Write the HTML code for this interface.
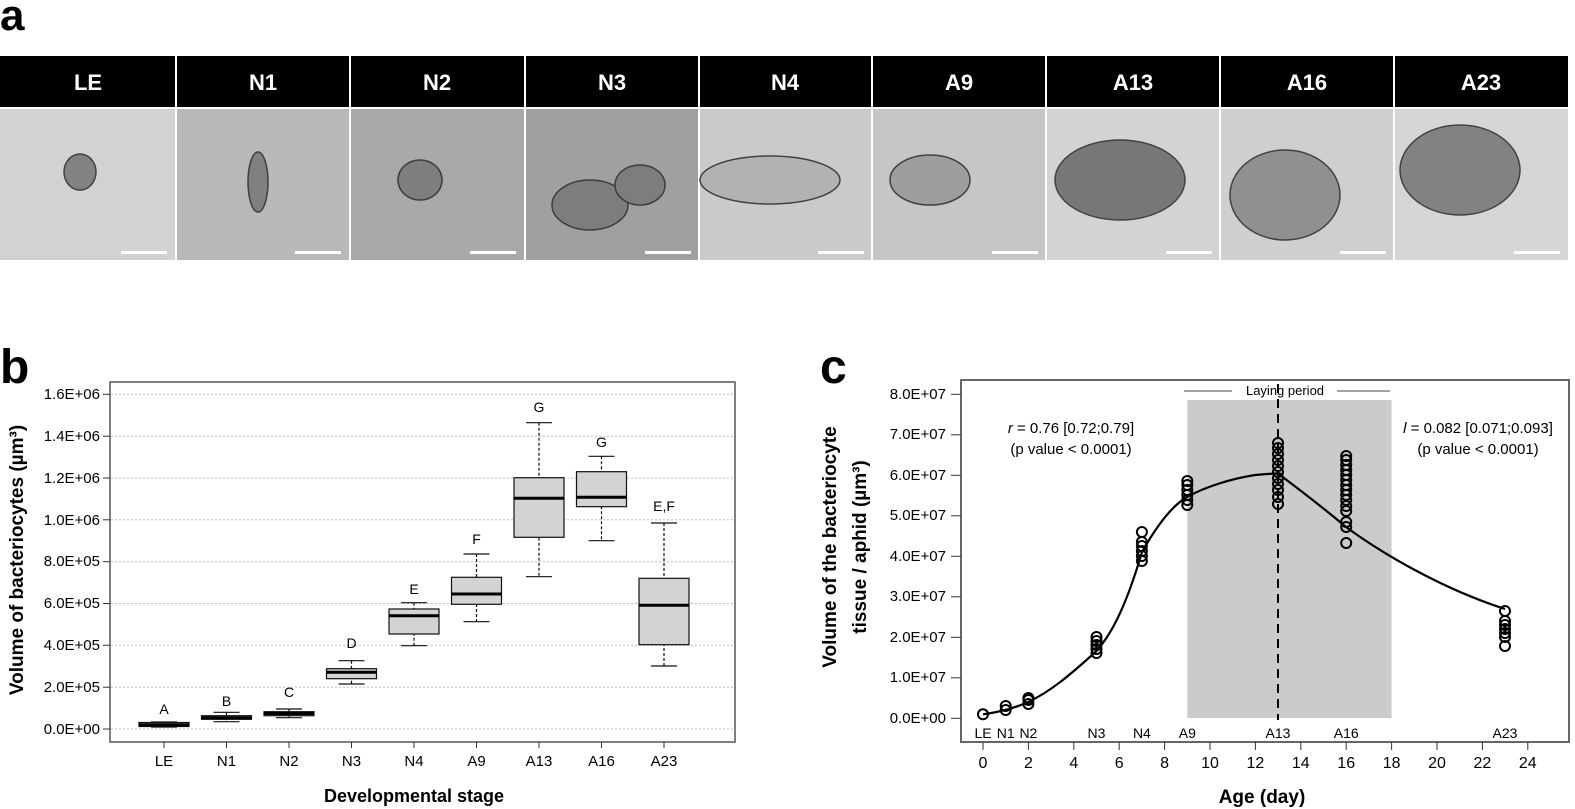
<!DOCTYPE html>
<html><head><meta charset="utf-8"><style>
body{margin:0;background:#fff;width:1575px;height:809px;overflow:hidden}
svg{display:block;font-family:"Liberation Sans",sans-serif}
</style></head><body>
<svg width="1575" height="809" viewBox="0 0 1575 809" xmlns="http://www.w3.org/2000/svg">
<text x="0" y="30" font-size="44" font-weight="bold">a</text>
<text x="0" y="383" font-size="48" font-weight="bold">b</text>
<text x="820" y="383" font-size="48" font-weight="bold">c</text>

<rect x="0" y="56" width="1568" height="51" fill="#000"/>
<rect x="0" y="109" width="175" height="151" fill="#d2d2d2"/>
<rect x="177" y="109" width="172" height="151" fill="#b9b9b9"/>
<rect x="351" y="109" width="173" height="151" fill="#a9a9a9"/>
<rect x="526" y="109" width="172" height="151" fill="#a0a0a0"/>
<rect x="700" y="109" width="171" height="151" fill="#cacaca"/>
<rect x="873" y="109" width="172" height="151" fill="#c6c6c6"/>
<rect x="1047" y="109" width="172" height="151" fill="#d3d3d3"/>
<rect x="1221" y="109" width="172" height="151" fill="#cfcfcf"/>
<rect x="1395" y="109" width="173" height="151" fill="#d6d6d6"/>
<g stroke="#fff" stroke-width="2"><line x1="176" y1="56" x2="176" y2="260"/><line x1="350" y1="56" x2="350" y2="260"/><line x1="525" y1="56" x2="525" y2="260"/><line x1="699" y1="56" x2="699" y2="260"/><line x1="872" y1="56" x2="872" y2="260"/><line x1="1046" y1="56" x2="1046" y2="260"/><line x1="1220" y1="56" x2="1220" y2="260"/><line x1="1394" y1="56" x2="1394" y2="260"/><line x1="0" y1="108" x2="1568" y2="108"/></g>
<g fill="#fff" font-size="22" font-weight="bold" text-anchor="middle">
<text x="88" y="90">LE</text><text x="263" y="90">N1</text><text x="437" y="90">N2</text><text x="612" y="90">N3</text><text x="785" y="90">N4</text><text x="959" y="90">A9</text><text x="1133" y="90">A13</text><text x="1307" y="90">A16</text><text x="1481" y="90">A23</text></g>
<g fill="#7a7a7a" stroke="#333" stroke-width="1.5" opacity="0.9">
<ellipse cx="80" cy="172" rx="16" ry="18"/>
<ellipse cx="258" cy="182" rx="10" ry="30"/>
<ellipse cx="420" cy="180" rx="22" ry="20"/>
<ellipse cx="590" cy="205" rx="38" ry="25"/><ellipse cx="640" cy="185" rx="25" ry="20"/>
<ellipse cx="770" cy="180" rx="70" ry="24" fill="#b0b0b0"/>
<ellipse cx="930" cy="180" rx="40" ry="25" fill="#9a9a9a"/>
<ellipse cx="1120" cy="180" rx="65" ry="40" fill="#6e6e6e"/>
<ellipse cx="1285" cy="195" rx="55" ry="45" fill="#8a8a8a"/>
<ellipse cx="1460" cy="170" rx="60" ry="45" fill="#7a7a7a"/>
</g>
<g fill="#fff"><rect x="121" y="251" width="46" height="3"/><rect x="295" y="251" width="46" height="3"/><rect x="470" y="251" width="46" height="3"/><rect x="645" y="251" width="46" height="3"/><rect x="818" y="251" width="46" height="3"/><rect x="992" y="251" width="46" height="3"/><rect x="1166" y="251" width="46" height="3"/><rect x="1340" y="251" width="46" height="3"/><rect x="1514" y="251" width="46" height="3"/></g>

<rect x="110" y="382" width="625" height="360" fill="#fff" stroke="#555" stroke-width="1.5"/>
<g stroke="#bbb" stroke-dasharray="2,2" stroke-width="1">
<line x1="111" y1="729" x2="734" y2="729"/><line x1="111" y1="687.2" x2="734" y2="687.2"/><line x1="111" y1="645.3" x2="734" y2="645.3"/><line x1="111" y1="603.5" x2="734" y2="603.5"/><line x1="111" y1="561.7" x2="734" y2="561.7"/><line x1="111" y1="519.8" x2="734" y2="519.8"/><line x1="111" y1="478" x2="734" y2="478"/><line x1="111" y1="436.2" x2="734" y2="436.2"/><line x1="111" y1="394.3" x2="734" y2="394.3"/></g>
<g font-size="15" text-anchor="end">
<text x="100" y="734">0.0E+00</text><text x="100" y="692">2.0E+05</text><text x="100" y="650">4.0E+05</text><text x="100" y="608">6.0E+05</text><text x="100" y="566">8.0E+05</text><text x="100" y="525">1.0E+06</text><text x="100" y="483">1.2E+06</text><text x="100" y="441">1.4E+06</text><text x="100" y="399">1.6E+06</text></g>
<g stroke="#333"><line x1="103" y1="729" x2="110" y2="729"/><line x1="103" y1="687.2" x2="110" y2="687.2"/><line x1="103" y1="645.3" x2="110" y2="645.3"/><line x1="103" y1="603.5" x2="110" y2="603.5"/><line x1="103" y1="561.7" x2="110" y2="561.7"/><line x1="103" y1="519.8" x2="110" y2="519.8"/><line x1="103" y1="478" x2="110" y2="478"/><line x1="103" y1="436.2" x2="110" y2="436.2"/><line x1="103" y1="394.3" x2="110" y2="394.3"/></g>
<g font-size="15" text-anchor="middle">
<text x="164" y="766">LE</text><text x="226.5" y="766">N1</text><text x="289" y="766">N2</text><text x="351.5" y="766">N3</text><text x="414" y="766">N4</text><text x="476.5" y="766">A9</text><text x="539" y="766">A13</text><text x="601.5" y="766">A16</text><text x="664" y="766">A23</text></g>
<g stroke="#333"><line x1="164" y1="742" x2="164" y2="748"/><line x1="226.5" y1="742" x2="226.5" y2="748"/><line x1="289" y1="742" x2="289" y2="748"/><line x1="351.5" y1="742" x2="351.5" y2="748"/><line x1="414" y1="742" x2="414" y2="748"/><line x1="476.5" y1="742" x2="476.5" y2="748"/><line x1="539" y1="742" x2="539" y2="748"/><line x1="601.5" y1="742" x2="601.5" y2="748"/><line x1="664" y1="742" x2="664" y2="748"/></g>
<text x="414" y="802" font-size="18" font-weight="bold" text-anchor="middle">Developmental stage</text>
<text transform="translate(23,560) rotate(-90)" font-size="19" font-weight="bold" text-anchor="middle">Volume of  bacteriocytes (µm³)</text>
<g stroke="#111" stroke-width="1.2">
<g stroke-dasharray="3,2">
<line x1="226.5" y1="712.3" x2="226.5" y2="721.7"/><line x1="289" y1="709" x2="289" y2="717.7"/><line x1="351.5" y1="660.7" x2="351.5" y2="684"/><line x1="414" y1="602.7" x2="414" y2="645.7"/><line x1="476.5" y1="554" x2="476.5" y2="621.7"/><line x1="539" y1="422.7" x2="539" y2="576.7"/><line x1="601.5" y1="456.3" x2="601.5" y2="540.7"/><line x1="664" y1="523" x2="664" y2="666"/></g>
<line x1="151" y1="722" x2="177" y2="722"/><line x1="151" y1="727" x2="177" y2="727"/>
<line x1="213.5" y1="712.3" x2="239.5" y2="712.3"/><line x1="213.5" y1="721.7" x2="239.5" y2="721.7"/>
<line x1="276" y1="709" x2="302" y2="709"/><line x1="276" y1="717.7" x2="302" y2="717.7"/>
<line x1="338.5" y1="660.7" x2="364.5" y2="660.7"/><line x1="338.5" y1="684" x2="364.5" y2="684"/>
<line x1="401" y1="602.7" x2="427" y2="602.7"/><line x1="401" y1="645.7" x2="427" y2="645.7"/>
<line x1="463.5" y1="554" x2="489.5" y2="554"/><line x1="463.5" y1="621.7" x2="489.5" y2="621.7"/>
<line x1="526" y1="422.7" x2="552" y2="422.7"/><line x1="526" y1="576.7" x2="552" y2="576.7"/>
<line x1="588.5" y1="456.3" x2="614.5" y2="456.3"/><line x1="588.5" y1="540.7" x2="614.5" y2="540.7"/>
<line x1="651" y1="523" x2="677" y2="523"/><line x1="651" y1="666" x2="677" y2="666"/>
<g fill="#d3d3d3">
<rect x="139" y="722.5" width="50" height="4"/>
<rect x="201.5" y="715.7" width="50" height="3.6"/>
<rect x="264" y="711.7" width="50" height="4"/>
<rect x="326.5" y="668.7" width="50" height="10"/>
<rect x="389" y="609" width="50" height="25"/>
<rect x="451.5" y="577.3" width="50" height="27"/>
<rect x="514" y="477.7" width="50" height="59.6"/>
<rect x="576.5" y="471.7" width="50" height="35"/>
<rect x="639" y="578.3" width="50" height="66.4"/></g>
</g>
<g stroke="#000" stroke-width="3">
<line x1="139" y1="724.7" x2="189" y2="724.7"/><line x1="201.5" y1="717.7" x2="251.5" y2="717.7"/><line x1="264" y1="713.5" x2="314" y2="713.5"/><line x1="326.5" y1="672.3" x2="376.5" y2="672.3"/><line x1="389" y1="615.7" x2="439" y2="615.7"/><line x1="451.5" y1="594" x2="501.5" y2="594"/><line x1="514" y1="498.3" x2="564" y2="498.3"/><line x1="576.5" y1="497.3" x2="626.5" y2="497.3"/><line x1="639" y1="605.3" x2="689" y2="605.3"/></g>
<g font-size="14" text-anchor="middle">
<text x="164" y="714">A</text><text x="226.5" y="706">B</text><text x="289" y="697">C</text><text x="351.5" y="648">D</text><text x="414" y="594">E</text><text x="476.5" y="544">F</text><text x="539" y="412">G</text><text x="601.5" y="447">G</text><text x="664" y="511">E,F</text></g>

<rect x="961" y="380" width="608" height="362" fill="#fff" stroke="#666" stroke-width="2"/>
<rect x="1187.3" y="400" width="204.3" height="318" fill="#cbcbcb"/>
<line x1="1278" y1="384" x2="1278" y2="720" stroke="#000" stroke-width="2" stroke-dasharray="9,6"/>
<g stroke="#444"><line x1="1184" y1="391" x2="1232" y2="391"/><line x1="1337" y1="391" x2="1390" y2="391"/></g>
<text x="1285" y="395" font-size="13" text-anchor="middle">Laying period</text>
<g font-size="15" text-anchor="middle">
<text x="1071" y="433"><tspan font-style="italic">r</tspan> = 0.76 [0.72;0.79]</text>
<text x="1071" y="454">(p value &lt; 0.0001)</text>
<text x="1478" y="433"><tspan font-style="italic">l</tspan> = 0.082 [0.071;0.093]</text>
<text x="1478" y="454">(p value &lt; 0.0001)</text></g>
<g font-size="15" text-anchor="end">
<text x="946" y="723">0.0E+00</text><text x="946" y="682">1.0E+07</text><text x="946" y="642">2.0E+07</text><text x="946" y="601">3.0E+07</text><text x="946" y="561">4.0E+07</text><text x="946" y="520">5.0E+07</text><text x="946" y="480">6.0E+07</text><text x="946" y="439">7.0E+07</text><text x="946" y="399">8.0E+07</text></g>
<g stroke="#333"><line x1="951" y1="718.3" x2="961" y2="718.3"/><line x1="951" y1="677.8" x2="961" y2="677.8"/><line x1="951" y1="637.3" x2="961" y2="637.3"/><line x1="951" y1="596.8" x2="961" y2="596.8"/><line x1="951" y1="556.3" x2="961" y2="556.3"/><line x1="951" y1="515.8" x2="961" y2="515.8"/><line x1="951" y1="475.3" x2="961" y2="475.3"/><line x1="951" y1="434.8" x2="961" y2="434.8"/><line x1="951" y1="394.3" x2="961" y2="394.3"/></g>
<g font-size="14" text-anchor="middle">
<text x="983" y="738">LE</text><text x="1005.7" y="738">N1</text><text x="1028.4" y="738">N2</text><text x="1096.5" y="738">N3</text><text x="1141.9" y="738">N4</text><text x="1187.3" y="738">A9</text><text x="1278" y="738">A13</text><text x="1346.2" y="738">A16</text><text x="1505" y="738">A23</text></g>
<g stroke="#333">
<line x1="983" y1="742" x2="983" y2="750"/><line x1="1028.4" y1="742" x2="1028.4" y2="750"/><line x1="1073.8" y1="742" x2="1073.8" y2="750"/><line x1="1119.2" y1="742" x2="1119.2" y2="750"/><line x1="1164.6" y1="742" x2="1164.6" y2="750"/><line x1="1210" y1="742" x2="1210" y2="750"/><line x1="1255.4" y1="742" x2="1255.4" y2="750"/><line x1="1300.8" y1="742" x2="1300.8" y2="750"/><line x1="1346.2" y1="742" x2="1346.2" y2="750"/><line x1="1391.6" y1="742" x2="1391.6" y2="750"/><line x1="1437" y1="742" x2="1437" y2="750"/><line x1="1482.4" y1="742" x2="1482.4" y2="750"/><line x1="1527.8" y1="742" x2="1527.8" y2="750"/></g>
<g font-size="16" text-anchor="middle">
<text x="983" y="768">0</text><text x="1028.4" y="768">2</text><text x="1073.8" y="768">4</text><text x="1119.2" y="768">6</text><text x="1164.6" y="768">8</text><text x="1210" y="768">10</text><text x="1255.4" y="768">12</text><text x="1300.8" y="768">14</text><text x="1346.2" y="768">16</text><text x="1391.6" y="768">18</text><text x="1437" y="768">20</text><text x="1482.4" y="768">22</text><text x="1527.8" y="768">24</text></g>
<text x="1262" y="803" font-size="19" font-weight="bold" text-anchor="middle">Age (day)</text>
<text transform="translate(836,547) rotate(-90)" font-size="19" font-weight="bold" text-anchor="middle">Volume of the bacteriocyte</text>
<text transform="translate(866,547) rotate(-90)" font-size="19" font-weight="bold" text-anchor="middle">tissue / aphid (µm³)</text>
<path d="M983,714.3 C1000,712 1015,708 1028,702 C1050,692 1070,675 1096,651.5 C1110,636 1125,610 1142,552 C1160,520 1175,504 1187,497 C1205,487 1230,479 1255,475 C1265,474 1272,473.5 1278,473.5 C1300,490 1320,505 1346,527 C1380,552 1440,588 1505,609" fill="none" stroke="#000" stroke-width="2.2"/>
<g fill="none" stroke="#000" stroke-width="2">
<circle cx="983" cy="714.3" r="5"/>
<circle cx="1005.7" cy="710" r="5"/><circle cx="1005.7" cy="706" r="5"/>
<circle cx="1028.4" cy="704" r="5"/><circle cx="1028.4" cy="700" r="5"/><circle cx="1028.4" cy="698" r="5"/>
<circle cx="1096.5" cy="653" r="5"/><circle cx="1096.5" cy="649" r="5"/><circle cx="1096.5" cy="645" r="5"/><circle cx="1096.5" cy="641" r="5"/><circle cx="1096.5" cy="637" r="5"/>
<circle cx="1141.9" cy="532" r="5"/><circle cx="1141.9" cy="561" r="5"/><circle cx="1141.9" cy="556" r="5"/><circle cx="1141.9" cy="551" r="5"/><circle cx="1141.9" cy="546" r="5"/><circle cx="1141.9" cy="542" r="5"/>
<circle cx="1187.3" cy="505" r="5"/><circle cx="1187.3" cy="500" r="5"/><circle cx="1187.3" cy="495" r="5"/><circle cx="1187.3" cy="490" r="5"/><circle cx="1187.3" cy="485" r="5"/><circle cx="1187.3" cy="481" r="5"/>
<circle cx="1278" cy="504" r="5"/><circle cx="1278" cy="497" r="5"/><circle cx="1278" cy="490" r="5"/><circle cx="1278" cy="484" r="5"/><circle cx="1278" cy="478" r="5"/><circle cx="1278" cy="472" r="5"/><circle cx="1278" cy="466" r="5"/><circle cx="1278" cy="460" r="5"/><circle cx="1278" cy="454" r="5"/><circle cx="1278" cy="448" r="5"/><circle cx="1278" cy="443" r="5"/>
<circle cx="1346.2" cy="543" r="5"/><circle cx="1346.2" cy="527" r="5"/><circle cx="1346.2" cy="522" r="5"/><circle cx="1346.2" cy="511" r="5"/><circle cx="1346.2" cy="506" r="5"/><circle cx="1346.2" cy="500" r="5"/><circle cx="1346.2" cy="495" r="5"/><circle cx="1346.2" cy="490" r="5"/><circle cx="1346.2" cy="485" r="5"/><circle cx="1346.2" cy="480" r="5"/><circle cx="1346.2" cy="475" r="5"/><circle cx="1346.2" cy="470" r="5"/><circle cx="1346.2" cy="465" r="5"/><circle cx="1346.2" cy="460" r="5"/><circle cx="1346.2" cy="456" r="5"/>
<circle cx="1505" cy="611" r="5"/><circle cx="1505" cy="646" r="5"/><circle cx="1505" cy="637" r="5"/><circle cx="1505" cy="633" r="5"/><circle cx="1505" cy="629" r="5"/><circle cx="1505" cy="625" r="5"/><circle cx="1505" cy="621" r="5"/>
</g>
</svg>
</body></html>
